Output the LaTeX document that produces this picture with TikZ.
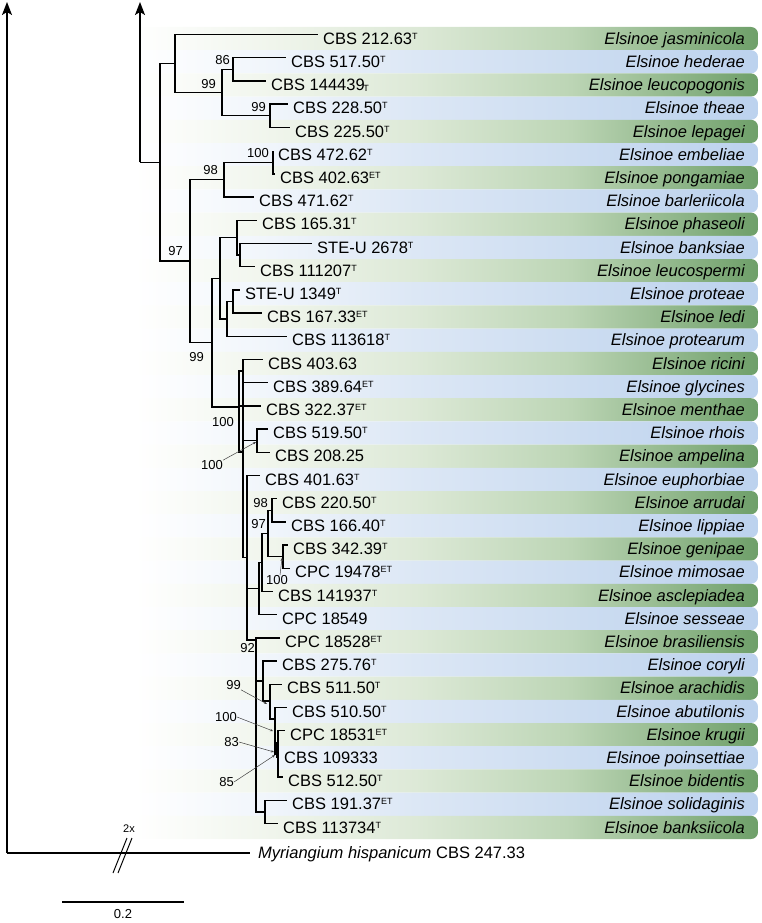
\documentclass[tikz,border=0pt]{standalone}
\usepackage{fontspec}
\setmainfont{Liberation Sans}
\usetikzlibrary{arrows.meta}
\definecolor{gA}{HTML}{F0F5EC}
\definecolor{gB}{HTML}{DDE9D7}
\definecolor{gC}{HTML}{BCD5B5}
\definecolor{gD}{HTML}{6E9F69}
\definecolor{bA}{HTML}{F0F5FB}
\definecolor{bB}{HTML}{DCE7F5}
\definecolor{bC}{HTML}{CDDDF1}
\definecolor{bD}{HTML}{BCD2EE}
\definecolor{leadc}{HTML}{404040}
\pgfdeclarehorizontalshading{gband}{100bp}{color(0bp)=(white); color(25bp)=(white); color(36bp)=(gA); color(47.5bp)=(gB); color(60bp)=(gC); color(75bp)=(gD); color(100bp)=(gD)}
\pgfdeclarehorizontalshading{bband}{100bp}{color(0bp)=(white); color(25bp)=(white); color(36bp)=(bA); color(47.5bp)=(bB); color(60bp)=(bC); color(75bp)=(bD); color(100bp)=(bD)}
\newcommand{\ts}[1]{\raisebox{5pt}{\fontsize{9}{9}\selectfont #1}}
\newcommand{\tsl}[1]{\kern-1.5pt\raisebox{-1pt}{\fontsize{9}{9}\selectfont #1}}
\tikzset{
  br/.style={line width=1.4pt},
  acc/.style={font=\fontsize{16.5}{18}\selectfont, anchor=base west, inner sep=0pt},
  spn/.style={font=\fontsize{16.5}{18}\selectfont\itshape, anchor=base east, inner sep=0pt},
  bs/.style={font=\fontsize{13}{13}\selectfont, anchor=east, inner sep=0pt},
  lead/.style={line width=0.5pt, leadc, -{Stealth[length=3pt,width=2.4pt]}},
  bigarrow/.style={line width=1.4pt, -{Stealth[length=13pt,width=10pt,inset=3pt]}}
}
\begin{document}
\begin{tikzpicture}[x=1pt,y=-1pt]
\useasboundingbox (0,0) rectangle (762,923);
% bands
\foreach \i in {1,...,35}{
  \pgfmathsetmacro\yy{34.6+23.2*(\i-1)}
  \ifodd\i\relax\def\sh{gband}\else\def\sh{bband}\fi
  \path[shading=\sh, rounded corners=7pt] (135,\yy-7.6) rectangle (758,\yy+15.6);
}
% internal nodes
\coordinate (A) at (140,162.3);
\coordinate (Atop) at (140,2);
\coordinate (B) at (160,162.3);
\coordinate (C) at (175,63.6);
\coordinate (D) at (222,92.6);
\coordinate (E) at (233,69.4);
\coordinate (TL) at (270,115.8);
\coordinate (F) at (190,261);
\coordinate (H) at (224,179.6);
\coordinate (I) at (273,162.2);
\coordinate (G) at (212,342.6);
\coordinate (J) at (220,278.2);
\coordinate (K) at (237,237.6);
\coordinate (K2) at (240,255);
\coordinate (L) at (227,318.8);
\coordinate (M) at (233,301.4);
\coordinate (N) at (239,407);
\coordinate (O) at (243,371);
\coordinate (Pin) at (243,452);
\coordinate (P) at (243,499);
\coordinate (Q) at (257,440.6);
\coordinate (R) at (247,557.7);
\coordinate (W) at (259,588.5);
\coordinate (V) at (262,562.4);
\coordinate (T) at (268,533.4);
\coordinate (S) at (272,510.2);
\coordinate (U) at (283,556.6);
\coordinate (X) at (256,640);
\coordinate (Y) at (263,681);
\coordinate (Z) at (270,701);
\coordinate (AA) at (275,719);
\coordinate (AB) at (278,754);
\coordinate (SB) at (265,811.8);
% internal branches
\draw[bigarrow] (A) -- (Atop);
\draw[br] (A) -- (B);
\draw[br] (B) |- (C);
\draw[br] (B) |- (F);
\draw[br] (C) |- (D);
\draw[br] (D) |- (E);
\draw[br] (D) |- (TL);
\draw[br] (F) |- (H);
\draw[br] (F) |- (G);
\draw[br] (H) |- (I);
\draw[br] (G) |- (J);
\draw[br] (G) |- (N);
\draw[br] (J) |- (K);
\draw[br] (J) |- (L);
\draw[br] (K) |- (K2);
\draw[br] (L) |- (M);
\draw[br] (N) |- (O);
\draw[br] (N) |- (Pin);
\draw[br] (P) |- (O);
\draw[br] (P) |- (Q);
\draw[br] (P) |- (R);
\draw[br] (R) |- (W);
\draw[br] (R) |- (X);
\draw[br] (W) |- (V);
\draw[br] (V) |- (T);
\draw[br] (T) |- (S);
\draw[br] (T) |- (U);
\draw[br] (X) |- (Y);
\draw[br] (X) |- (SB);
\draw[br] (Y) |- (Z);
\draw[br] (Z) |- (AA);
\draw[br] (AA) |- (AB);
\draw[line width=2.4pt] (277.5,742) -- (277.5,758);
% tips
\foreach \i/\pp/\xe/\acc/\spc in {
1/C/318/CBS 212.63\ts{T}/jasminicola,
2/E/286/CBS 517.50\ts{T}/hederae,
3/E/266/CBS 144439\tsl{T}/leucopogonis,
4/TL/288/CBS 228.50\ts{T}/theae,
5/TL/290/CBS 225.50\ts{T}/lepagei,
6/I/273/CBS 472.62\ts{T}/embeliae,
7/I/275/CBS 402.63\ts{ET}/pongamiae,
8/H/254/CBS 471.62\ts{T}/barleriicola,
9/K/257/CBS 165.31\ts{T}/phaseoli,
10/K2/312/STE-U 2678\ts{T}/banksiae,
11/K2/255/CBS 111207\ts{T}/leucospermi,
12/M/240/STE-U 1349\ts{T}/proteae,
13/M/262/CBS 167.33\ts{ET}/ledi,
14/L/287/CBS 113618\ts{T}/protearum,
15/O/263/CBS 403.63/ricini,
16/O/268/CBS 389.64\ts{ET}/glycines,
17/N/261/CBS 322.37\ts{ET}/menthae,
18/Q/268/CBS 519.50\ts{T}/rhois,
19/Q/270/CBS 208.25/ampelina,
20/R/260/CBS 401.63\ts{T}/euphorbiae,
21/S/277/CBS 220.50\ts{T}/arrudai,
22/S/286/CBS 166.40\ts{T}/lippiae,
23/U/288/CBS 342.39\ts{T}/genipae,
24/U/290/CPC 19478\ts{ET}/mimosae,
25/V/273/CBS 141937\ts{T}/asclepiadea,
26/W/277/CPC 18549/sesseae,
27/X/280/CPC 18528\ts{ET}/brasiliensis,
28/Y/277/CBS 275.76\ts{T}/coryli,
29/Z/282/CBS 511.50\ts{T}/arachidis,
30/AA/287/CBS 510.50\ts{T}/abutilonis,
31/AB/285/CPC 18531\ts{ET}/krugii,
32/AB/279/CBS 109333/poinsettiae,
33/AB/283/CBS 512.50\ts{T}/bidentis,
34/SB/287/CBS 191.37\ts{ET}/solidaginis,
35/SB/278/CBS 113734\ts{T}/banksiicola}{
  \pgfmathsetmacro\yy{34.6+23.2*(\i-1)}
  \coordinate (e\i) at (\xe,\yy);
  \draw[br] (\pp) |- (e\i);
  \node[acc] (a\i) at (\xe+5,\yy+9.7) {\acc};
  \node[spn] (s\i) at (745,\yy+9.7) {Elsinoe \spc};
}
% bootstrap labels
\node[bs] (b86) at (230,60) {86};
\node[bs] (bD) at (216,84) {99};
\node[bs] (bTL) at (266,107) {99};
\node[bs] (bI) at (269,153) {100};
\node[bs] (bH) at (218,170) {98};
\node[bs] (bF) at (183,251) {97};
\node[bs] (bG) at (204,357) {99};
\node[bs] (bN) at (234,422) {100};
\node[bs] (bQ) at (223,465) {100};
\node[bs] (bS) at (268,503) {98};
\node[bs] (bT) at (266,524) {97};
\node[bs] (bU) at (288,580) {100};
\node[bs] (bX) at (255,648) {92};
\node[bs] (bZ) at (241,685) {99};
\node[bs] (bAA) at (237,717) {100};
\node[bs] (b83) at (239,742) {83};
\node[bs] (b85) at (234,782) {85};
\coordinate (qQ) at (256,442);
\coordinate (qU) at (282,558);
\coordinate (qZ) at (267,704);
\coordinate (qAA) at (273,731);
\coordinate (q83) at (274,752);
\coordinate (q85) at (275,755);
\draw[lead] (bQ.north east) -- (qQ);
\draw[lead] ([xshift=-8pt]bU.north east) -- (qU);
\draw[lead] (bZ.south east) -- (qZ);
\draw[lead] (bAA.east) -- (qAA);
\draw[lead] (b83.east) -- (q83);
\draw[lead] (b85.east) -- (q85);
% outgroup
\coordinate (OG0) at (7,853);
\coordinate (OGtop) at (7,2);
\coordinate (OGend) at (250,853);
\draw[bigarrow] (OG0) -- (OGtop);
\draw[br] (OG0) -- (OGend);
\node[acc, anchor=base west] (og) at (258,858.7) {\itshape Myriangium hispanicum\upshape{} CBS 247.33};
\draw[line width=1pt] (127,838) -- (113,873);
\draw[line width=1pt] (132,838) -- (118,873);
\node[font=\fontsize{11}{11}\selectfont, inner sep=0pt] (twox) at (129,829) {2x};
% scale bar
\coordinate (sb1) at (62,902);
\coordinate (sb2) at (184,902);
\draw[line width=1.3pt] (sb1) -- (sb2);
\node[font=\fontsize{13}{13}\selectfont, inner sep=0pt] (sbl) at (123,914.5) {0.2};
\end{tikzpicture}
\end{document}
